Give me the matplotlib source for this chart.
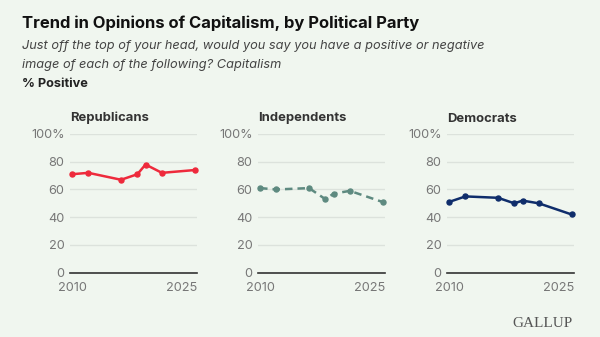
import matplotlib
matplotlib.use("Agg")
import matplotlib.pyplot as plt

# Data
years = [2010, 2012, 2016, 2018, 2019, 2021, 2025]
republicans = [71, 72, 67, 71, 78, 72, 74]
independents = [61, 60, 61, 53, 57, 59, 51]
democrats = [51, 55, 54, 50, 52, 50, 42]
panel_names = ["Republicans", "Independents", "Democrats"]
y_ticks = [0, 20, 40, 60, 80, 100]
y_labels = ["0", "20", "40", "60", "80", "100%"]
x_labels = ["2010", "2025"]

series = [republicans, independents, democrats]
colors = ["#ee2a3c", "#5e8a80", "#0f2d6b"]
styles = ["-", "--", "-"]

bg = "#f0f6ef"
W, H = 600, 337
plt.rcParams["font.family"] = ["Inter", "DejaVu Sans"]

fig = plt.figure(figsize=(W / 100, H / 100), dpi=100)
fig.patch.set_facecolor(bg)

fig.text(22 / W, 1 - 28 / H, "Trend in Opinions of Capitalism, by Political Party",
         fontsize=11.95, fontweight="bold", color="#111111")
fig.text(22 / W, 1 - 49 / H,
         "Just off the top of your head, would you say you have a positive or negative",
         fontsize=9.2, style="italic", color="#444444")
fig.text(22 / W, 1 - 68 / H, "image of each of the following? Capitalism",
         fontsize=9.2, style="italic", color="#444444")
fig.text(22 / W, 1 - 87 / H, "% Positive", fontsize=9.2, fontweight="bold", color="#222222")

lefts = [70, 258, 447]
ax_w = 127
top, bottom = 134, 272.7
for i in range(3):
    ax = fig.add_axes([lefts[i] / W, 1 - bottom / H, ax_w / W, (bottom - top) / H])
    ax.set_facecolor(bg)
    if styles[i] == "--":
        ax.plot(years, series[i], color=colors[i], lw=1.8, dashes=(3, 2),
                marker="o", markersize=3.6, clip_on=False)
    else:
        ax.plot(years, series[i], color=colors[i], lw=1.8,
                marker="o", markersize=3.6, clip_on=False)
    ax.set_xlim(2009.75, 2025.3)
    ax.set_ylim(0, 100)
    ax.set_yticks(y_ticks)
    ax.set_yticklabels(y_labels)
    ax.set_xticks([years[0], years[-1]])
    ax.set_xticklabels([])
    ax.text(years[0], -0.07, x_labels[0], transform=ax.get_xaxis_transform(),
            ha="center", va="top", fontsize=9.2, color="#777777")
    ax.text(1.0, -0.07, x_labels[1], transform=ax.transAxes,
            ha="right", va="top", fontsize=9.2, color="#777777")
    ax.grid(axis="y", color="#dce2dc", lw=1)
    ax.set_axisbelow(True)
    for s in ["top", "right", "left"]:
        ax.spines[s].set_visible(False)
    ax.spines["bottom"].set_color("#333333")
    ax.spines["bottom"].set_linewidth(1.2)
    ax.tick_params(length=0, labelsize=9.2, labelcolor="#777777", pad=4)
    ax.set_title(panel_names[i], loc="left", fontsize=9.4, fontweight="bold",
                 color="#333333", pad=9)

fig.text(573 / W, 1 - 327 / H, "GALLUP", fontsize=11, family="Liberation Serif",
         color="#555555", ha="right")

fig.savefig("out.png", dpi=100, facecolor=bg)
